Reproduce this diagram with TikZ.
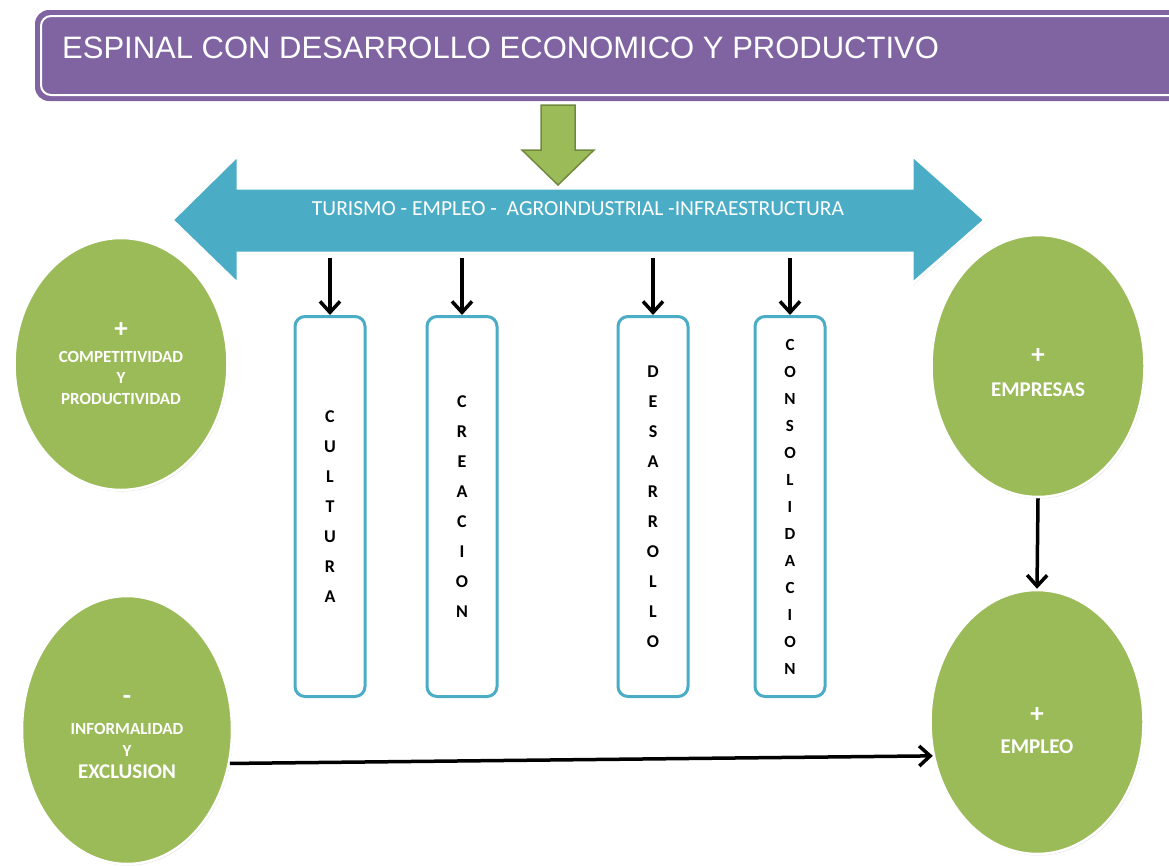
\documentclass[tikz,border=0pt]{standalone}
\usepackage{fontspec}
\setmainfont{Carlito}
\newfontfamily\titlefont{Liberation Sans}
\usetikzlibrary{shapes.geometric,arrows.meta,shadows}

\definecolor{morado}{HTML}{8064A2}
\definecolor{verde}{HTML}{9BBB59}
\definecolor{verdeosc}{HTML}{71893F}
\definecolor{azul}{HTML}{4BACC6}

\begin{document}
\begin{tikzpicture}[x=1pt,y=-1pt,
  bola/.style={ellipse, fill=verde, draw=white, line width=2.5pt,
    minimum width=213pt, minimum height=255pt, text=white, align=center,
    font=\bfseries\fontsize{17}{21}\selectfont,
    drop shadow={opacity=0.25, shadow xshift=1pt, shadow yshift=-1.5pt}},
  caja/.style={draw=azul, line width=3pt, fill=white, rounded corners=10pt,
    minimum width=70pt, minimum height=380pt, align=center,
    font=\bfseries\fontsize{18}{30}\selectfont},
  flecha/.style={line width=3.5pt, -{Straight Barb[length=11pt,width=20pt]}}]

\newcommand\YCAJA{506.5}
\newcommand\YEJE{258}
\newcommand\SIGNO{\fontsize{27}{27}\selectfont}

\useasboundingbox (0,0) rectangle (1169,865);

%% titulo
\fill[morado, rounded corners=14pt] (35,10) rectangle (1200,101);
\draw[white, line width=2pt, rounded corners=10pt] (41,16) rectangle (1194,95);
\node[anchor=base west, inner sep=0pt, text=white,
  font=\titlefont\fontsize{31}{31}\selectfont] (titulo) at (62,58)
  {ESPINAL CON DESARROLLO ECONOMICO Y PRODUCTIVO};

%% flecha doble
\draw[fill=azul, draw=white, line width=3pt, line join=miter,
  drop shadow={opacity=0.25, shadow xshift=1pt, shadow yshift=-1.5pt}]
  (172,220) -- (238,155) -- (238,188) -- (912,188) -- (912,155) -- (985,220)
  -- (912,284) -- (912,253) -- (238,253) -- (238,284) -- cycle;
\node[text=white, font=\fontsize{21.5}{21.5}\selectfont] (ejes) at (578,209)
  {TURISMO - EMPLEO -\ \ AGROINDUSTRIAL -INFRAESTRUCTURA};
\coordinate (ejebase) at (578,\YEJE);

%% flecha verde
\draw[fill=verde, draw=verdeosc, line width=1.5pt, line join=miter]
  (541,105) -- (575,105) -- (575,150) -- (594,150) -- (558,185)
  -- (522,150) -- (541,150) -- cycle;

%% cajas
\node[caja] (cultura) at (330,\YCAJA) {C\\U\\L\\T\\U\\R\\A};
\node[caja] (creacion) at (462,\YCAJA) {C\\R\\E\\A\\C\\I\\O\\N};
\node[caja] (desarrollo) at (653,\YCAJA) {D\\E\\S\\A\\R\\R\\O\\L\\L\\O};
\node[caja, font=\bfseries\fontsize{17}{27}\selectfont] (consolida) at (790,\YCAJA)
  {C\\O\\N\\S\\O\\L\\I\\D\\A\\C\\I\\O\\N};

\draw[flecha] (cultura.north |- ejebase) -- (cultura.north);
\draw[flecha] (creacion.north |- ejebase) -- (creacion.north);
\draw[flecha] (desarrollo.north |- ejebase) -- (desarrollo.north);
\draw[flecha] (consolida.north |- ejebase) -- (consolida.north);

%% elipses
\node[bola, minimum height=252pt] (compet) at (121,364)
  {{\SIGNO +}\\[4pt]COMPETITIVIDAD\\Y\\PRODUCTIVIDAD};
\node[bola, minimum height=262pt, font=\bfseries\fontsize{21}{21}\selectfont] (empresas) at (1038,366)
  {{\SIGNO\rule{0pt}{28pt}+}\\[12pt]EMPRESAS};
\node[bola, minimum height=264pt, font=\bfseries\fontsize{21}{21}\selectfont] (empleo) at (1037,722)
  {{\SIGNO\rule{0pt}{32pt}+}\\[10pt]EMPLEO};
\node[bola, minimum width=210pt, minimum height=268pt, font=\bfseries\fontsize{17}{22}\selectfont] (informal) at (127,730)
  {{\SIGNO\rule{0pt}{24pt}-}\\[8pt]INFORMALIDAD\\Y\\{\fontsize{21}{21}\selectfont EXCLUSION}};

\draw[flecha] (empresas.south) -- (empleo.north);
\draw[flecha] (informal.-18) -- (empleo.198);

\end{tikzpicture}
\end{document}
